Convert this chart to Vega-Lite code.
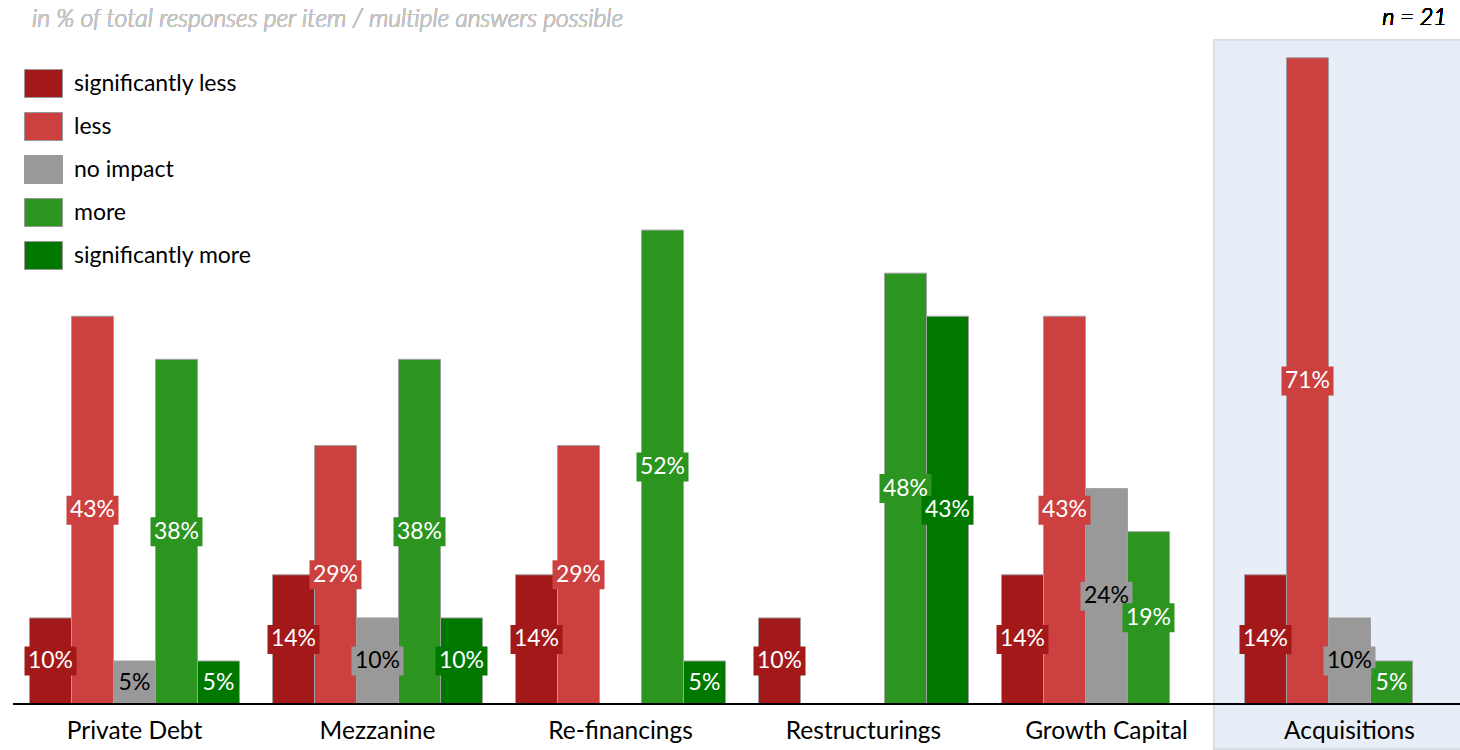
{
  "$schema": "https://vega.github.io/schema/vega-lite/v6.json",
  "width": 1460,
  "height": 750,
  "padding": 0,
  "autosize": {"type": "fit", "contains": "padding"},
  "background": "white",
  "config": {"view": {"stroke": null}, "font": "Lato"},
  "data": {"values": [
    {"category": "Private Debt", "series": "significantly less", "value": 0.0952},
    {"category": "Private Debt", "series": "less", "value": 0.4286},
    {"category": "Private Debt", "series": "no impact", "value": 0.0476},
    {"category": "Private Debt", "series": "more", "value": 0.381},
    {"category": "Private Debt", "series": "significantly more", "value": 0.0476},
    {"category": "Mezzanine", "series": "significantly less", "value": 0.1429},
    {"category": "Mezzanine", "series": "less", "value": 0.2857},
    {"category": "Mezzanine", "series": "no impact", "value": 0.0952},
    {"category": "Mezzanine", "series": "more", "value": 0.381},
    {"category": "Mezzanine", "series": "significantly more", "value": 0.0952},
    {"category": "Re-financings", "series": "significantly less", "value": 0.1429},
    {"category": "Re-financings", "series": "less", "value": 0.2857},
    {"category": "Re-financings", "series": "more", "value": 0.5238},
    {"category": "Re-financings", "series": "significantly more", "value": 0.0476},
    {"category": "Restructurings", "series": "significantly less", "value": 0.0952},
    {"category": "Restructurings", "series": "more", "value": 0.4762},
    {"category": "Restructurings", "series": "significantly more", "value": 0.4286},
    {"category": "Growth Capital", "series": "significantly less", "value": 0.1429},
    {"category": "Growth Capital", "series": "less", "value": 0.4286},
    {"category": "Growth Capital", "series": "no impact", "value": 0.2381},
    {"category": "Growth Capital", "series": "more", "value": 0.1905},
    {"category": "Acquisitions", "series": "significantly less", "value": 0.1429},
    {"category": "Acquisitions", "series": "less", "value": 0.7143},
    {"category": "Acquisitions", "series": "no impact", "value": 0.0952},
    {"category": "Acquisitions", "series": "more", "value": 0.0476}
  ]},
  "resolve": {"scale": {"y": "independent"}},
  "layer": [
    {
      "layer": [
        {
          "mark": {"type": "bar", "fill": "#e8eef7", "stroke": "#d6dce4", "strokeWidth": 1.5, "width": {"band": 1.115}},
          "encoding": {
            "x": {"datum": "Acquisitions", "type": "nominal",
                  "scale": {"domain": ["Private Debt", "Mezzanine", "Re-financings", "Restructurings", "Growth Capital", "Acquisitions"], "range": [13, 1471], "paddingInner": 0, "paddingOuter": 0},
                  "axis": null},
            "y": {"datum": -0.0497, "type": "quantitative", "scale": {"domain": [-0.04967, 0.7781], "nice": false, "zero": false}, "axis": null},
            "y2": {"datum": 0.734}
          }
        },
        {
          "mark": {"type": "bar", "stroke": "#a0a0a0", "strokeWidth": 1},
          "encoding": {
            "x": {"field": "category", "type": "nominal", "sort": null, "axis": null},
            "xOffset": {"field": "series", "type": "nominal",
                        "scale": {"domain": ["significantly less", "less", "no impact", "more", "significantly more"], "paddingInner": 0, "paddingOuter": 0.393}},
            "y": {"field": "value", "type": "quantitative", "axis": null},
            "color": {"field": "series", "type": "nominal",
                      "scale": {"domain": ["significantly less", "less", "no impact", "more", "significantly more"],
                                "range": ["#a31919", "#cc4040", "#999999", "#2c9520", "#007800"]},
                      "legend": {"orient": "none", "legendX": 29, "legendY": 69, "title": null,
                                 "symbolType": "M-1.357,-1H1.357V1H-1.357Z", "symbolSize": 784,
                                 "symbolStrokeColor": "#999999", "symbolStrokeWidth": 1, "symbolOpacity": 1,
                                 "labelFontSize": 23, "labelFont": "Lato", "labelColor": "#000000", "labelLimit": 500,
                                 "labelOffset": 16, "rowPadding": 10, "padding": 0}}
          }
        },
        {
          "mark": {"type": "rule", "color": "#000000", "strokeWidth": 1.5},
          "encoding": {
            "x": {"datum": "Private Debt", "type": "nominal", "bandPosition": 0},
            "x2": {"datum": "Acquisitions", "bandPosition": 1},
            "y": {"datum": 0, "type": "quantitative"}
          }
        },
        {
          "data": {"values": [
            {"category": "Private Debt"}, {"category": "Mezzanine"}, {"category": "Re-financings"},
            {"category": "Restructurings"}, {"category": "Growth Capital"}, {"category": "Acquisitions"}
          ]},
          "mark": {"type": "text", "fontSize": 24.5, "font": "Lato", "color": "#000000", "baseline": "middle"},
          "encoding": {
            "x": {"field": "category", "type": "nominal"},
            "y": {"datum": -0.0309, "type": "quantitative"},
            "text": {"field": "category"}
          }
        },
        {
          "mark": {"type": "text", "fontSize": 24.8, "font": "Lato", "fontStyle": "italic", "fontWeight": 300, "color": "#c4c4c4", "align": "left", "baseline": "middle", "dx": 19},
          "encoding": {
            "x": {"datum": "Private Debt", "type": "nominal", "bandPosition": 0},
            "y": {"datum": 0.756, "type": "quantitative"},
            "text": {"value": "in % of total responses per item / multiple answers possible"}
          }
        },
        {
          "mark": {"type": "text", "fontSize": 23.5, "font": "Lato", "fontStyle": "italic", "fontWeight": 300, "color": "#000000", "align": "right", "baseline": "middle", "dx": 219},
          "encoding": {
            "x": {"datum": "Acquisitions", "type": "nominal", "bandPosition": 0},
            "y": {"datum": 0.758, "type": "quantitative"},
            "text": {"value": "n = 21"}
          }
        }
      ]
    },
    {
      "layer": [
        {
          "transform": [{"filter": "datum.value > 0.06"}],
          "mark": {"type": "point", "filled": true, "opacity": 1, "size": 841, "shape": "M-1.793,-1H1.793V1H-1.793Z", "strokeWidth": 0},
          "encoding": {
            "x": {"field": "category", "type": "nominal"},
            "xOffset": {"field": "series", "type": "nominal"},
            "y": {"field": "value", "type": "quantitative", "scale": {"domain": [-0.09934, 1.5562], "nice": false, "zero": false}, "axis": null},
            "color": {"field": "series", "type": "nominal"}
          }
        },
        {
          "transform": [{"filter": "datum.value <= 0.06"}],
          "mark": {"type": "point", "filled": true, "opacity": 1, "size": 841, "shape": "M-1.379,-1H1.379V1H-1.379Z", "strokeWidth": 0},
          "encoding": {
            "x": {"field": "category", "type": "nominal"},
            "xOffset": {"field": "series", "type": "nominal"},
            "y": {"field": "value", "type": "quantitative"},
            "color": {"field": "series", "type": "nominal"}
          }
        },
        {
          "mark": {"type": "text", "fontSize": 23, "font": "Lato", "baseline": "middle", "align": "center"},
          "encoding": {
            "x": {"field": "category", "type": "nominal"},
            "xOffset": {"field": "series", "type": "nominal"},
            "y": {"field": "value", "type": "quantitative"},
            "text": {"field": "value", "type": "quantitative", "format": ".0%"},
            "color": {"condition": {"test": "datum.series === 'no impact'", "value": "#000000"}, "value": "#ffffff"}
          }
        }
      ]
    }
  ]
}
